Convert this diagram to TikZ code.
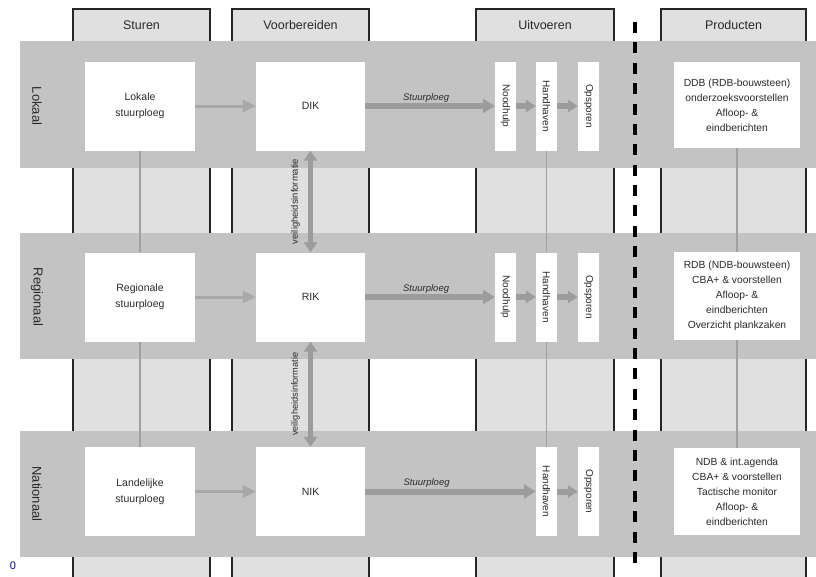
\documentclass[tikz,border=0pt]{standalone}
\usepackage{fontspec}
\setmainfont{Liberation Sans}
\usepackage{xcolor}
\usetikzlibrary{arrows.meta,positioning}

\definecolor{bandgrijs}{HTML}{C3C3C3}
\definecolor{kolomgrijs}{HTML}{E0E0E0}
\definecolor{pijlgrijs}{HTML}{A8A8A8}
\definecolor{dikgrijs}{HTML}{9C9C9C}
\definecolor{lijngrijs}{HTML}{A0A0A0}
\definecolor{tekst}{HTML}{2A2A2A}

\begin{document}
\begin{tikzpicture}[x=1pt,y=-1pt, every node/.style={text=tekst},
  blok/.style={fill=white, inner sep=1pt, align=center, font=\fontsize{10.5}{16}\selectfont},
  taak/.style={fill=white, inner sep=0pt, minimum width=21pt, minimum height=89pt, font=\fontsize{10}{12}\selectfont},
  product/.style={fill=white, inner sep=0pt, minimum width=126pt, align=center, font=\fontsize{10.3}{15}\selectfont},
  kop/.style={font=\fontsize{12.5}{14}\selectfont},
  niveau/.style={rotate=-90, font=\fontsize{13}{15}\selectfont},
  dun/.style={draw=pijlgrijs, line width=3pt, -{Triangle[length=13pt,width=12pt]}},
  dik/.style={draw=dikgrijs, line width=6pt, -{Triangle[length=12pt,width=14pt]}},
  kort/.style={draw=dikgrijs, line width=6pt, -{Triangle[length=10pt,width=12pt]}},
  info/.style={draw=dikgrijs, line width=5pt, {Triangle[length=10pt,width=13pt]}-{Triangle[length=10pt,width=13pt]}},
  lijn/.style={draw=lijngrijs, line width=1.5pt}]

\useasboundingbox (0,0) rectangle (816,576);

% Columns
\foreach \xa/\xb in {73/210, 232/369, 476/614, 661/806} {
  \fill[kolomgrijs] (\xa,9) rectangle (\xb,577);
  \draw[black!85, line width=1.2pt] (\xa,577) -- (\xa,9) -- (\xb,9) -- (\xb,577);
}
\node[kop] (sturen) at (141.5,25) {Sturen};
\node[kop] (voorb) at (300.5,25) {Voorbereiden};
\node[kop] (uitv) at (545,25) {Uitvoeren};
\node[kop] (prodkop) at (733.5,25) {Producten};

% Rows
\fill[bandgrijs] (20,41) rectangle (816,168);
\fill[bandgrijs] (20,233) rectangle (816,359);
\fill[bandgrijs] (20,431) rectangle (816,557);
\node[niveau] (lokaal) at (37,106) {Lokaal};
\node[niveau] (regionaal) at (37,297) {Regionaal};
\node[niveau] (nationaal) at (37,494) {Nationaal};

% Boundary
\draw[line width=4.5pt, dash pattern=on 11pt off 9.38pt] (635,22) -- (635,563);

% Lokaal
\node[blok, minimum width=110pt, minimum height=89pt] (lok) at (140,106) {Lokale\\stuurploeg};
\node[blok, minimum width=109pt, minimum height=89pt] (dikbox) at (310.5,106) {DIK};
\node[taak] (nood1) at (505.5,106) {\rotatebox{-90}{Noodhulp}};
\node[taak] (hand1) at (546.5,106) {\rotatebox{-90}{Handhaven}};
\node[taak] (ops1) at (588.5,106) {\rotatebox{-90}{Opsporen}};
\node[product, minimum height=86pt] (prod1) at (737,105)
  {DDB (RDB-bouwsteen)\\onderzoeksvoorstellen\\Afloop- \&\\eindberichten};

% Regionaal
\node[blok, minimum width=110pt, minimum height=89pt] (reg) at (140,297) {Regionale\\stuurploeg};
\node[blok, minimum width=109pt, minimum height=89pt] (rik) at (310.5,297) {RIK};
\node[taak] (nood2) at (505.5,297) {\rotatebox{-90}{Noodhulp}};
\node[taak] (hand2) at (546.5,297) {\rotatebox{-90}{Handhaven}};
\node[taak] (ops2) at (588.5,297) {\rotatebox{-90}{Opsporen}};
\node[product, minimum height=88pt] (prod2) at (737,296)
  {RDB (NDB-bouwsteen)\\CBA+ \& voorstellen\\Afloop- \&\\eindberichten\\Overzicht plankzaken};

% Nationaal
\node[blok, minimum width=110pt, minimum height=89pt] (lan) at (140,491.5) {Landelijke\\stuurploeg};
\node[blok, minimum width=109pt, minimum height=89pt] (nik) at (310.5,491.5) {NIK};
\node[taak] (hand3) at (546.5,491.5) {\rotatebox{-90}{Handhaven}};
\node[taak] (ops3) at (588.5,491.5) {\rotatebox{-90}{Opsporen}};
\node[product, minimum height=87pt] (prod3) at (737,491.5)
  {NDB \& int.agenda\\CBA+ \& voorstellen\\Tactische monitor\\Afloop- \&\\eindberichten};

% Arrows
\draw[dun] (lok) -- (dikbox);
\draw[dun] (reg) -- (rik);
\draw[dun] (lan) -- (nik);

\draw[dik] (dikbox) -- node[pos=.47, above, inner sep=1pt, font=\fontsize{9.5}{11}\selectfont\itshape] {Stuurploeg} (nood1);
\draw[dik] (rik) -- node[pos=.47, above, inner sep=1pt, font=\fontsize{9.5}{11}\selectfont\itshape] {Stuurploeg} (nood2);
\draw[dik] (nik) -- node[pos=.36, above, inner sep=1pt, font=\fontsize{9.5}{11}\selectfont\itshape] {Stuurploeg} (hand3);

\draw[kort] (nood1) -- (hand1);
\draw[kort] (hand1) -- (ops1);
\draw[kort] (nood2) -- (hand2);
\draw[kort] (hand2) -- (ops2);
\draw[kort] (hand3) -- (ops3);

% Lines between levels
\draw[lijn] (lok) -- (reg);
\draw[lijn] (reg) -- (lan);
\draw[lijn] (hand1) -- (hand2);
\draw[lijn] (hand2) -- (hand3);
\draw[lijn] (prod1) -- (prod2);
\draw[lijn] (prod2) -- (prod3);

\draw[info] (dikbox) -- node[midway, xshift=-15pt, rotate=90, font=\fontsize{9.4}{10}\selectfont] {veiligheidsinformatie} (rik);
\draw[info] (rik) -- node[midway, xshift=-15pt, rotate=90, font=\fontsize{9.2}{10}\selectfont] {veiligheidsinformatie} (nik);

\node[text=blue!60!black, font=\fontsize{11}{12}\selectfont] (nul) at (13,566) {0};

\end{tikzpicture}
\end{document}
